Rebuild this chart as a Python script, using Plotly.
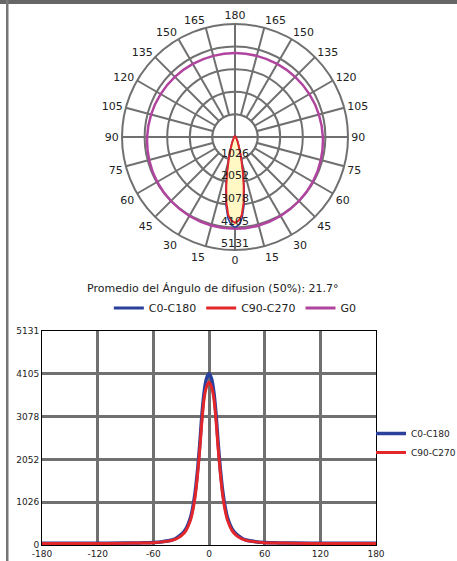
import plotly.graph_objects as go

# ---------------- data ----------------
gamma = [-180, -150, -120, -90, -75, -60, -50, -40, -35, -30, -25, -20, -17.5, -15, -12.5,
         -10, -7.5, -5, -2.5, 0, 2.5, 5, 7.5, 10, 12.5, 15, 17.5, 20, 25, 30, 35, 40,
         50, 60, 75, 90, 120, 150, 180]
c0_c180 = [40, 40, 40, 45, 50, 60, 80, 120, 170, 250, 380, 650, 900, 1250, 1750,
           2400, 3150, 3700, 4000, 4105, 4000, 3700, 3150, 2400, 1750, 1250, 900, 650, 380, 250, 170, 120,
           80, 60, 50, 45, 40, 40, 40]
c90_c270 = [38, 38, 38, 42, 47, 55, 75, 110, 150, 220, 340, 590, 820, 1150, 1650,
            2280, 3000, 3550, 3800, 3900, 3800, 3550, 3000, 2280, 1650, 1150, 820, 590, 340, 220, 150, 110,
            75, 55, 47, 42, 38, 38, 38]

g0_theta = [0, 15, 30, 45, 60, 75, 90, 105, 120, 135, 150, 165, 180,
            195, 210, 225, 240, 255, 270, 285, 300, 315, 330, 345, 360]
g0_values = [4170, 4160, 4140, 4110, 4080, 4035, 3990, 3945, 3900, 3860, 3830, 3815, 3810,
             3815, 3830, 3860, 3900, 3945, 3990, 4035, 4080, 4110, 4140, 4160, 4170]

angle_ticks = [0, 15, 30, 45, 60, 75, 90, 105, 120, 135, 150, 165, 180,
               195, 210, 225, 240, 255, 270, 285, 300, 315, 330, 345]
angle_labels = ["0", "15", "30", "45", "60", "75", "90", "105", "120", "135", "150", "165", "180",
                "165", "150", "135", "120", "105", "90", "75", "60", "45", "30", "15"]

radial_ticks = [1026, 2052, 3078, 4105, 5131]
radial_labels = ["1026", "2052", "3078", "4105", "5131"]
y_ticks = [0, 1026, 2052, 3078, 4105, 5131]
y_labels = ["0", "1026", "2052", "3078", "4105", "5131"]
x_ticks = [-180, -120, -60, 0, 60, 120, 180]
x_labels = ["-180", "-120", "-60", "0", "60", "120", "180"]

series_names = ["C0-C180", "C90-C270", "G0"]
title_text = "Promedio del Ángulo de difusion (50%): 21.7°"

# ---------------- styles ----------------
GRID = "#707070"
BLUE = "#2b3f9c"
RED = "#e3262a"
MAGENTA = "#b0449e"
YELLOW = "#fff7c4"
FONT = "DejaVu Sans"
series_colors = [BLUE, RED, MAGENTA]

disk_theta = list(range(0, 361, 5))
disk_r = [radial_ticks[0]] * len(disk_theta)

fig = go.Figure()

# white inner disk (hides spokes inside first ring)
fig.add_trace(go.Scatterpolar(theta=disk_theta, r=disk_r, mode="lines", fill="toself",
                              fillcolor="white", line=dict(color=GRID, width=2),
                              showlegend=False, hoverinfo="skip"))
# cross lines through the centre
fig.add_trace(go.Scatterpolar(theta=[0, 0, 180], r=[radial_ticks[0], 0, radial_ticks[0]], mode="lines",
                              line=dict(color=GRID, width=2), showlegend=False, hoverinfo="skip"))
fig.add_trace(go.Scatterpolar(theta=[90, 0, 270], r=[radial_ticks[0], 0, radial_ticks[0]], mode="lines",
                              line=dict(color=GRID, width=2), showlegend=False, hoverinfo="skip"))

# G0
fig.add_trace(go.Scatterpolar(theta=g0_theta, r=g0_values, mode="lines", line=dict(color=MAGENTA, width=2.5),
                              line_shape="spline", name="G0", showlegend=False))
# yellow fill of the beam
fig.add_trace(go.Scatterpolar(theta=gamma, r=c0_c180, mode="lines", fill="toself", fillcolor=YELLOW,
                              line=dict(color=YELLOW, width=0), showlegend=False, hoverinfo="skip"))
# C0-C180
fig.add_trace(go.Scatterpolar(theta=gamma, r=c0_c180, mode="lines",
                              line=dict(color=BLUE, width=1.5), name="C0-C180", showlegend=False))
fig.add_trace(go.Scatterpolar(theta=gamma, r=c90_c270, mode="lines",
                              line=dict(color=RED, width=2), name="C90-C270", showlegend=False))
# radial labels
fig.add_trace(go.Scatterpolar(theta=[0] * len(radial_ticks), r=radial_ticks, mode="text",
                              text=radial_labels, textposition="top center",
                              textfont=dict(family=FONT, size=11, color="#222"),
                              showlegend=False, hoverinfo="skip"))
# legend entries for the polar diagram
for name, col in zip(series_names, series_colors):
    fig.add_trace(go.Scatterpolar(theta=[None], r=[None], mode="lines", line=dict(color=col, width=3),
                                  name=name, legend="legend", showlegend=True))

# linear chart
fig.add_trace(go.Scatter(x=gamma, y=c0_c180, mode="lines", line=dict(color=BLUE, width=3.5),
                         line_shape="spline", name="C0-C180", legend="legend2", xaxis="x", yaxis="y"))
fig.add_trace(go.Scatter(x=gamma, y=c90_c270, mode="lines", line=dict(color=RED, width=3),
                         line_shape="spline", name="C90-C270", legend="legend2", xaxis="x", yaxis="y"))

W, H = 457, 561
fig.update_layout(
    template="none",
    width=W, height=H,
    margin=dict(l=0, r=0, t=0, b=0, pad=0, autoexpand=False),
    paper_bgcolor="white", plot_bgcolor="white",
    font=dict(family=FONT, size=11, color="#222"),
    polar=dict(
        domain=dict(x=[122 / W, 348 / W], y=[1 - 250 / H, 1 - 24 / H]),
        bgcolor="white",
        angularaxis=dict(rotation=270, direction="counterclockwise",
                         tickmode="array", tickvals=angle_ticks, ticktext=angle_labels,
                         showline=True, linecolor=GRID, linewidth=2,
                         showgrid=True, gridcolor=GRID, gridwidth=2, ticks="",
                         tickfont=dict(family=FONT, size=11, color="#222")),
        radialaxis=dict(range=[0, radial_ticks[-1]], tickmode="array", tickvals=radial_ticks,
                        showticklabels=False, ticks="", showline=False,
                        showgrid=True, gridcolor=GRID, gridwidth=2),
    ),
    xaxis=dict(domain=[42 / W, 376 / W], range=[-180, 180], tickmode="array", automargin=False,
               tickvals=x_ticks, ticktext=x_labels, showgrid=True, gridcolor=GRID, gridwidth=2.5,
               zeroline=False, showline=True, linecolor="black", linewidth=1, mirror=True,
               tickfont=dict(family=FONT, size=9, color="#222"), ticks=""),
    yaxis=dict(domain=[1 - 545 / H, 1 - 331 / H], range=[0, 5131], tickmode="array", automargin=False,
               tickvals=y_ticks, ticktext=y_labels, showgrid=True, gridcolor=GRID, gridwidth=2.5,
               zeroline=False, showline=True, linecolor="black", linewidth=1, mirror=True,
               tickfont=dict(family=FONT, size=9, color="#222"), ticks="", ticklabelstandoff=0),
    legend=dict(orientation="h", x=0.515, xanchor="center", y=1 - 308 / H, yanchor="middle",
                font=dict(family=FONT, size=11, color="#222"), bgcolor="rgba(0,0,0,0)",
                traceorder="normal", itemwidth=30),
    legend2=dict(orientation="v", x=371 / W, xanchor="left", y=1 - 443 / H, yanchor="middle",
                 font=dict(family=FONT, size=9, color="#222"), bgcolor="rgba(0,0,0,0)",
                 tracegroupgap=0, itemwidth=30),
    annotations=[dict(text=title_text, xref="paper", yref="paper", x=213 / W, y=1 - 288 / H,
                      showarrow=False, font=dict(family=FONT, size=11, color="#222"),
                      xanchor="center", yanchor="middle")],
    shapes=[
        dict(type="rect", xref="paper", yref="paper", x0=0, x1=1, y0=1 - 4 / H, y1=1,
             fillcolor="#666666", line=dict(width=0)),
        dict(type="rect", xref="paper", yref="paper", x0=6 / W, x1=8.5 / W, y0=0, y1=1,
             fillcolor="#777777", line=dict(width=0)),
    ],
)

fig.write_html("out.html", config={"displayModeBar": False},
               post_script="document.body.style.margin='0';document.body.style.overflow='hidden';")
